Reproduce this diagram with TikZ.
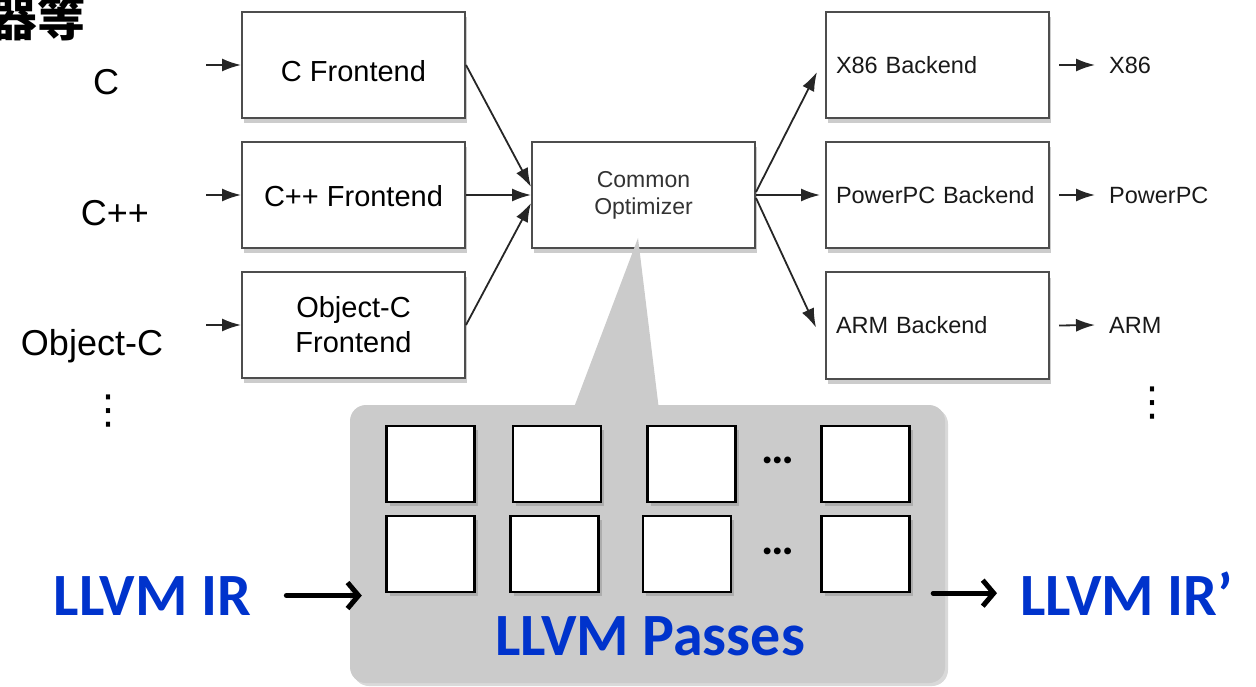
\documentclass[tikz,border=0pt]{standalone}
\usepackage{fontspec}
\setmainfont{Liberation Sans}
\newfontfamily\cjkfont{Noto Sans CJK TC}
\newfontfamily\calfont{Carlito}
\newfontfamily\symfont{DejaVu Sans}
\usetikzlibrary{calc,arrows.meta,positioning,shadows}

\definecolor{passgray}{HTML}{CBCBCB}
\definecolor{irblue}{HTML}{0033CC}
\definecolor{edgegray}{HTML}{4D4D4D}

\tikzset{
  fbox/.style={draw=edgegray,line width=2pt,fill=white,minimum width=223pt,minimum height=106pt,inner sep=0pt,
    drop shadow={opacity=0.4,shadow xshift=2pt,shadow yshift=-5pt}},
  pbox/.style={draw=black,line width=2.5pt,fill=white,minimum width=88pt,minimum height=76pt,inner sep=0pt,
    drop shadow={opacity=0.4,shadow xshift=3pt,shadow yshift=-4pt}},
  arr/.style={-{Latex[length=19pt,width=13pt]},line width=1.8pt,draw=black!85},
  bigarr/.style={-{Straight Barb[length=11pt,width=26pt]},line width=5pt,line cap=round},
  lang/.style={font=\fontsize{36}{40}\selectfont,inner sep=0pt,anchor=base},
  small/.style={font=\fontsize{23.5}{28}\selectfont,text=black!90},
  vdots/.style={font=\symfont\fontsize{40}{44}\selectfont,inner sep=0pt},
  irtext/.style={font=\calfont\bfseries\fontsize{60}{66}\selectfont,text=irblue,inner sep=0pt,anchor=base},
}

\begin{document}
\begin{tikzpicture}[x=1pt,y=-1pt]
\useasboundingbox (0,0) rectangle (1256,687);
%heading, cut off by the page
\node[font=\cjkfont\bfseries\fontsize{48}{52}\selectfont,anchor=base,inner sep=0pt] (head) at (38,37) {器等};

%source languages
\foreach \v/\px/\py/\t in {lc/106/95/C, lcpp/115/226/C++, lobjc/92/355/Object-C}
  \node[lang] (\v) at (\px,\py) {\t};
\node[vdots] (ldots) at (108,411) {⋮};

%frontends
\node[fbox,font=\fontsize{29}{35}\selectfont] (cfe) at (353.5,65) {\raisebox{-17pt}[0pt][0pt]{C Frontend}};
\node[fbox,font=\fontsize{29}{35}\selectfont] (cppfe) at (353.5,195) {\raisebox{-12pt}[0pt][0pt]{C++ Frontend}};
\node[fbox,font=\fontsize{29}{35}\selectfont,align=center] (objfe) at (353.5,325) {Object-C\\Frontend};
\foreach \v in {cfe,cppfe,objfe}
  \draw[arr] ([xshift=-35pt]\v.west) -- (\v.west);

%optimizer
\node[fbox,align=center,font=\fontsize{23}{27}\selectfont,text=black!80] (opt) at (643.5,195) {Common\\Optimizer};
\draw[arr] (cfe.east) -- ([yshift=8pt]opt.west);
\draw[arr] (cppfe.east) -- (opt.west);
\draw[arr] (objfe.east) -- ([yshift=-8pt]opt.west);

%backends and targets
\node[fbox,small,text width=203pt,align=left,inner xsep=10pt] (x86) at (937.5,65) {X86 Backend};
\node[fbox,small,text width=203pt,align=left,inner xsep=10pt] (ppc) at (937.5,195) {PowerPC Backend};
\node[fbox,small,text width=203pt,align=left,inner xsep=10pt] (arm) at (937.5,325.5) {ARM Backend};
\draw[arr] ([yshift=3pt]opt.east) -- ([xshift=-8pt,yshift=-7pt]x86.west);
\draw[arr] (opt.east) -- ([xshift=-5pt]ppc.west);
\draw[arr] ([yshift=-3pt]opt.east) -- ([xshift=-9pt,yshift=-2pt]arm.west);
\foreach \v/\py/\t in {x86/65/X86, ppc/195/PowerPC, arm/325/ARM}
{
  \node[small,anchor=west,inner sep=0pt] (\v-out) at (1109,\py) {\t};
  \draw[arr] ([xshift=9pt]\v.east) -- ([xshift=-14pt]\v-out.west);
}
\node[vdots] (rdots) at (1152,403) {⋮};

%passes callout
\node[fill=passgray,rounded corners=16pt,minimum width=595pt,minimum height=278pt,
  drop shadow={opacity=0.3,shadow xshift=3pt,shadow yshift=-3pt}] (passes) at (647.5,544) {};
\fill[passgray] (638,238) -- (573,410) -- (659,410) -- cycle;
\foreach \px [count=\i] in {430.5,557,691.5,865.5}
  \node[pbox] (pa\i) at (\px,464) {};
\foreach \px [count=\i] in {430.5,554.5,687,865.5}
  \node[pbox] (pb\i) at (\px,554) {};
\node[font=\calfont\bfseries\fontsize{46}{50}\selectfont] (dota) at (778,460) {…};
\node[font=\calfont\bfseries\fontsize{46}{50}\selectfont] (dotb) at (778,551) {…};
\node[irtext] (plabel) at (650,655) {LLVM Passes};

%IR in and out
\node[irtext] (irin) at (152.5,615) {LLVM IR};
\node[irtext,anchor=base west] (irout) at (1020,615) {LLVM IR’};
\draw[bigarr] ($(irin.east)+(35,0)$) -- ($(irin.east -| passes.west)+(12,0)$);
\draw[bigarr] ($(irout.west -| passes.east)+(-12,0)$) -- ($(irout.west)+(-23,0)$);
\end{tikzpicture}
\end{document}
